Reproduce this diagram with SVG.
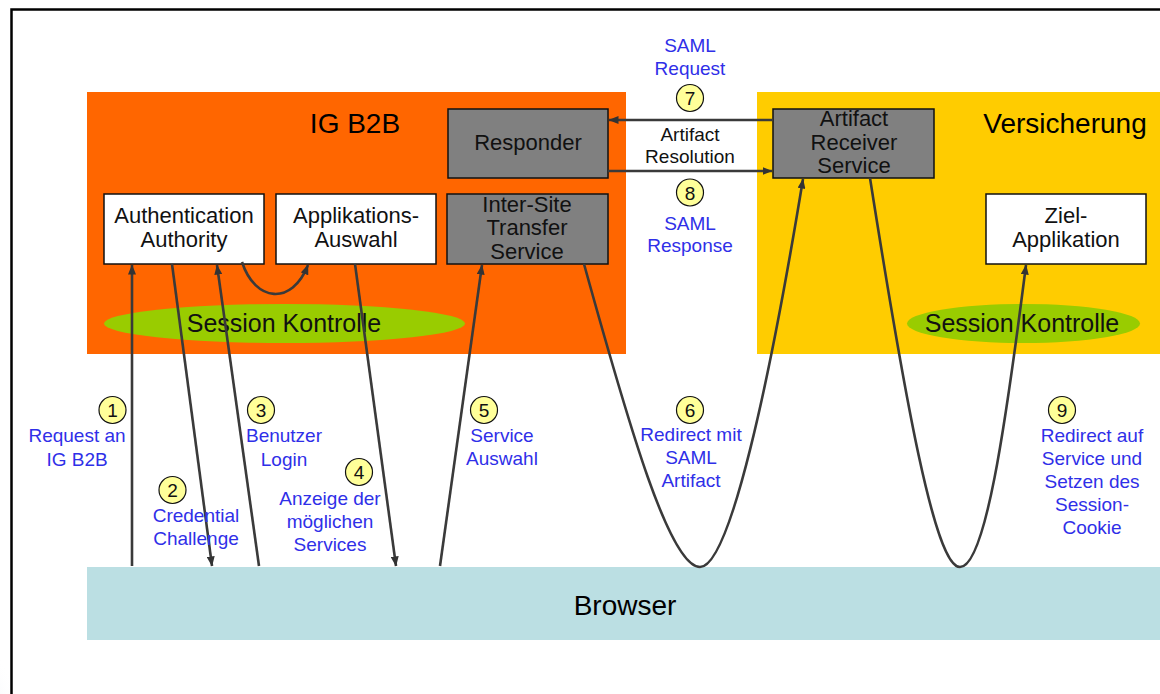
<svg xmlns="http://www.w3.org/2000/svg" width="1160" height="694" viewBox="0 0 1160 694">
  <defs>
    <marker id="head" viewBox="0 0 10 8" refX="9.5" refY="4" markerWidth="10" markerHeight="8" markerUnits="userSpaceOnUse" orient="auto">
      <path d="M0,0 L10,4 L0,8 z" fill="#333"/>
    </marker>
    <radialGradient id="corner" cx="0" cy="1" r="1">
      <stop offset="0" stop-color="#c9d6e3" stop-opacity="0.8"/>
      <stop offset="1" stop-color="#ffffff" stop-opacity="0"/>
    </radialGradient>
  </defs>
  <style>
    text { font-family: "Liberation Sans", Arial, sans-serif; text-anchor: middle; }
    .zone { stroke: none; }
    .title { font-size: 28px; fill: #000; }
    .box { stroke: #111; stroke-width: 1.5; }
    .white { fill: #fff; }
    .grey { fill: #808080; }
    .lbl { font-size: 22px; fill: #111; }
    .sess { fill: #99CC00; }
    .sesstxt { font-size: 25px; fill: #111; }
    .blue { font-size: 19px; fill: #2f2fe8; }
    .blk { font-size: 19px; fill: #111; }
    .badge { fill: #FFFF99; stroke: #111; stroke-width: 1.2; }
    .num { font-size: 19px; fill: #111; }
    .conn { fill: none; stroke: #3a3a3a; stroke-width: 2.6; marker-end: url(#head); }
  </style>

  <rect x="0" y="0" width="1160" height="694" fill="#fff"/>
  <rect x="-40" y="640" width="60" height="70" fill="url(#corner)"/>
  <!-- outer frame -->
  <rect x="11.5" y="9.5" width="1220" height="760" fill="#fff" stroke="#000" stroke-width="2.5"/>

  <!-- domains -->
  <g id="ig-b2b">
    <rect class="zone" x="87" y="92" width="539" height="262" fill="#FF6600"/>
    <text class="title" x="355" y="133">IG B2B</text>
  </g>
  <g id="versicherung">
    <rect class="zone" x="757" y="92" width="410" height="262" fill="#FFCC00"/>
    <text class="title" x="1065" y="133">Versicherung</text>
  </g>

  <g id="session-ig">
    <ellipse class="sess" cx="284.5" cy="323.5" rx="180.5" ry="19.5"/>
    <text class="sesstxt" x="284" y="332">Session Kontrolle</text>
  </g>
  <g id="session-vers">
    <ellipse class="sess" cx="1023.5" cy="323.5" rx="116.5" ry="19.5"/>
    <text class="sesstxt" x="1022" y="332">Session Kontrolle</text>
  </g>

  <g id="responder">
    <rect class="box grey" x="448" y="109" width="160" height="69"/>
    <text class="lbl" x="528" y="150">Responder</text>
  </g>
  <g id="artifact-receiver">
    <rect class="box grey" x="773" y="109" width="161" height="69"/>
    <text class="lbl" x="854" y="126">Artifact</text>
    <text class="lbl" x="854" y="150">Receiver</text>
    <text class="lbl" x="854" y="173">Service</text>
  </g>
  <g id="authentication-authority">
    <rect class="box white" x="104" y="194" width="160" height="70"/>
    <text class="lbl" x="184" y="223">Authentication</text>
    <text class="lbl" x="184" y="247">Authority</text>
  </g>
  <g id="applikations-auswahl">
    <rect class="box white" x="276" y="194" width="160" height="70"/>
    <text class="lbl" x="356" y="223">Applikations-</text>
    <text class="lbl" x="356" y="247">Auswahl</text>
  </g>
  <g id="inter-site-transfer">
    <rect class="box grey" x="447" y="194" width="161" height="70"/>
    <text class="lbl" x="527" y="212">Inter-Site</text>
    <text class="lbl" x="527" y="235">Transfer</text>
    <text class="lbl" x="527" y="259">Service</text>
  </g>
  <g id="ziel-applikation">
    <rect class="box white" x="986" y="194" width="160" height="70"/>
    <text class="lbl" x="1066" y="223">Ziel-</text>
    <text class="lbl" x="1066" y="247">Applikation</text>
  </g>

  <g id="browser">
    <rect class="zone" x="87" y="567" width="1080" height="73" fill="#BBDFE3"/>
    <text class="title" x="625" y="615">Browser</text>
  </g>

  <!-- message flow -->
  <g id="connectors">
    <path class="conn" d="M132,566 L132,265"/>
    <path class="conn" d="M172,264 L212,566"/>
    <path class="conn" d="M259,566 L217,265"/>
    <path class="conn" d="M242,262 C255,302 292,306 308,265"/>
    <path class="conn" d="M355,264 L396,566"/>
    <path class="conn" d="M440,566 L482,265"/>
    <path class="conn" d="M584,264 C630,430 670,567 700,567 C730,567 770,380 803,179"/>
    <path class="conn" d="M773,120 L609,120"/>
    <path class="conn" d="M608,171 L772,171"/>
    <path class="conn" d="M870,178 C905,400 935,567 960,567 C985,567 1005,430 1026,265"/>
  </g>

  <!-- step numbers -->
  <g id="step-1"><circle class="badge" cx="112.5" cy="410" r="13.5"/><text class="num" x="112.5" y="417">1</text></g>
  <g id="step-2"><circle class="badge" cx="172.5" cy="490" r="13.5"/><text class="num" x="172.5" y="497">2</text></g>
  <g id="step-3"><circle class="badge" cx="261" cy="410" r="13.5"/><text class="num" x="261" y="417">3</text></g>
  <g id="step-4"><circle class="badge" cx="359" cy="472" r="13.5"/><text class="num" x="359" y="479">4</text></g>
  <g id="step-5"><circle class="badge" cx="484" cy="410" r="13.5"/><text class="num" x="484" y="417">5</text></g>
  <g id="step-6"><circle class="badge" cx="690" cy="410" r="13.5"/><text class="num" x="690" y="417">6</text></g>
  <g id="step-7"><circle class="badge" cx="690" cy="98" r="13.5"/><text class="num" x="690" y="105">7</text></g>
  <g id="step-8"><circle class="badge" cx="690" cy="192.5" r="13.5"/><text class="num" x="690" y="199.5">8</text></g>
  <g id="step-9"><circle class="badge" cx="1062" cy="410" r="13.5"/><text class="num" x="1062" y="417">9</text></g>

  <!-- step labels -->
  <g id="labels">
    <text class="blue" x="77" y="442">Request an</text>
    <text class="blue" x="77" y="466">IG B2B</text>
    <text class="blue" x="196" y="522">Credential</text>
    <text class="blue" x="196" y="545">Challenge</text>
    <text class="blue" x="284" y="442">Benutzer</text>
    <text class="blue" x="284" y="466">Login</text>
    <text class="blue" x="330" y="505">Anzeige der</text>
    <text class="blue" x="330" y="528">möglichen</text>
    <text class="blue" x="330" y="551">Services</text>
    <text class="blue" x="502" y="442">Service</text>
    <text class="blue" x="502" y="465">Auswahl</text>
    <text class="blue" x="691" y="441">Redirect mit</text>
    <text class="blue" x="691" y="464">SAML</text>
    <text class="blue" x="691" y="487">Artifact</text>
    <text class="blue" x="1092" y="442">Redirect auf</text>
    <text class="blue" x="1092" y="465">Service und</text>
    <text class="blue" x="1092" y="488">Setzen des</text>
    <text class="blue" x="1092" y="511">Session-</text>
    <text class="blue" x="1092" y="534">Cookie</text>
    <text class="blue" x="690" y="52">SAML</text>
    <text class="blue" x="690" y="75">Request</text>
    <text class="blk" x="690" y="141">Artifact</text>
    <text class="blk" x="690" y="163">Resolution</text>
    <text class="blue" x="690" y="230">SAML</text>
    <text class="blue" x="690" y="252">Response</text>
  </g>
</svg>
